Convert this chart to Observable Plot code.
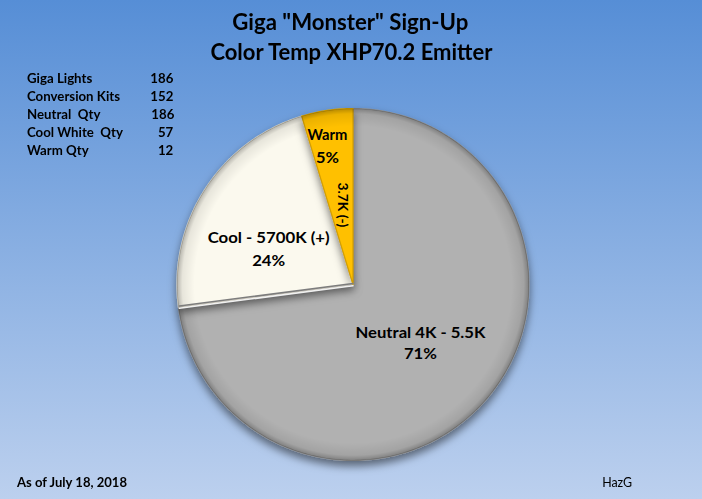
<!DOCTYPE html>
<html><head><meta charset="utf-8">
<script src="https://cdn.jsdelivr.net/npm/d3@7"></script>
<script src="https://cdn.jsdelivr.net/npm/@observablehq/plot@0.6"></script>
<style>
html,body{margin:0;padding:0;}
#chart{position:relative;width:702px;height:499px;overflow:hidden;background:linear-gradient(to bottom,#568ed6 0%,#bcd0ee 100%);font-family:Lato,"Open Sans",sans-serif;color:#000;}
#chart svg{position:absolute;left:0;top:0;background:transparent;}
.abs{position:absolute;white-space:pre;line-height:20px;}
</style></head><body><div id="chart"></div>
<script>
// ---- data ----
const titleLines = ['Giga "Monster" Sign-Up', "Color Temp XHP70.2 Emitter"];
const sliceNames = ["Neutral 4K - 5.5K", "Cool - 5700K (+)", "Warm"];
const sliceValues = [186, 57, 12];
const slicePercentLabels = ["71%", "24%", "5%"];
const sliceColors = ["#b1b1b1", "#fbf9ee", "#ffc000"];
const sliceEdgeColors = ["#8c8c8c", "#cfcbbd", "#d49f00"];
const warmNote = "3.7K (-)";
const tableLabels = ["Giga Lights", "Conversion Kits", "Neutral  Qty", "Cool White  Qty", "Warm Qty"];
const tableValues = [186, 152, 186, 57, 12];
const footerLeft = "As of July 18, 2018";
const footerRight = "HazG";

// ---- layout ----
const W = 702, H = 499;
const cx = 352.5, cy = 284, R = 176;
const labelLayout = [{r: 0.51, da: 0, gap: 10.5}, {r: 0.52, da: -10, gap: 11.5}, {r: 0.80, da: -2, gap: 11.5}];
const noteLayout = {r: 0.456, da: 1};
const textWidths = {"Neutral 4K - 5.5K": 130, "71%": 33, "Cool - 5700K (+)": 122, "24%": 33, "Warm": 40, "5%": 23, "3.7K (-)": 45};

const chart = document.getElementById("chart");
const rad = Math.PI / 180;
const arcs = d3.pie().sort(null).startAngle(0).endAngle(2 * Math.PI)(sliceValues);

const sectors = arcs.map(a => {
  const n = Math.max(2, Math.ceil((a.endAngle - a.startAngle) / rad));
  const pts = [{x: 0, y: 0}];
  for (let k = 0; k <= n; k++) {
    const t = a.startAngle + (a.endAngle - a.startAngle) * k / n;
    pts.push({x: Math.sin(t), y: Math.cos(t)});
  }
  pts.push({x: 0, y: 0});
  return pts;
});
const fullCircle = d3.range(0, 361).map(d => ({x: Math.sin(d * rad), y: Math.cos(d * rad)}));
// radial edge where the neutral slice ends (bevel highlight)
const neutralEnd = arcs[0].endAngle;
const edgeLine = [{x: 0, y: 0}, {x: Math.sin(neutralEnd) * 0.995, y: Math.cos(neutralEnd) * 0.995}];

const labels = arcs.map((a, i) => {
  const L = labelLayout[i];
  const t = (a.startAngle + a.endAngle) / 2 + L.da * rad;
  return {name: sliceNames[i], pct: slicePercentLabels[i], x: L.r * Math.sin(t), y: L.r * Math.cos(t), gap: L.gap};
});
const wa = arcs[2];
const nt = (wa.startAngle + wa.endAngle) / 2 + noteLayout.da * rad;
const note = [{text: warmNote, x: noteLayout.r * Math.sin(nt), y: noteLayout.r * Math.cos(nt)}];

const NS = "http://www.w3.org/2000/svg";
function defsMark() {
  const defs = document.createElementNS(NS, "defs");
  defs.innerHTML = `
    <filter id="pieShadow" x="-20%" y="-20%" width="140%" height="140%">
      <feDropShadow dx="0" dy="5" stdDeviation="4" flood-color="#000" flood-opacity="0.5"/>
    </filter>
    <radialGradient id="rim" gradientUnits="userSpaceOnUse" cx="${cx}" cy="${cy}" r="${R}">
      <stop offset="0.90" stop-color="#000" stop-opacity="0"/>
      <stop offset="0.97" stop-color="#000" stop-opacity="0.08"/>
      <stop offset="1" stop-color="#000" stop-opacity="0.28"/>
    </radialGradient>`;
  return defs;
}

const textOpts = {fontFamily: "Lato", fontWeight: "bold", fontSize: 16, fill: "#000"};

const plot = Plot.plot({
  width: W, height: H, margin: 0,
  x: {type: "linear", domain: [-1, 1], range: [cx - R, cx + R], axis: null},
  y: {type: "linear", domain: [-1, 1], range: [cy + R, cy - R], axis: null},
  style: {background: "transparent", overflow: "visible"},
  marks: [
    defsMark,
    ...sectors.map((pts, i) => Plot.line(pts, {x: "x", y: "y", fill: sliceColors[i], stroke: sliceEdgeColors[i], strokeWidth: 1.2, strokeLinejoin: "round"})),
    Plot.line(fullCircle, {x: "x", y: "y", fill: "url(#rim)", stroke: "none"}),
    Plot.line(edgeLine, {x: "x", y: "y", stroke: "#7d7d7d", strokeWidth: 1.5, dy: -1}),
    Plot.line(edgeLine, {x: "x", y: "y", stroke: "#ffffff", strokeOpacity: 0.9, strokeWidth: 1.6, dy: 1.2}),
    ...labels.map(l => Plot.text([l], {...textOpts, x: "x", y: "y", text: "name", dy: -l.gap})),
    ...labels.map(l => Plot.text([l], {...textOpts, x: "x", y: "y", text: "pct", dy: l.gap})),
    Plot.text(note, {...textOpts, fontSize: 13, x: "x", y: "y", text: "text", rotate: 90})
  ]
});
chart.appendChild(plot);

// shadow on sectors
plot.querySelectorAll("g[aria-label='line']").forEach((g, i) => { if (i < sectors.length) g.setAttribute("filter", "url(#pieShadow)"); });

// fit slice label widths
plot.querySelectorAll("text").forEach(t => {
  const w = textWidths[t.textContent];
  if (w) { t.setAttribute("textLength", w); t.setAttribute("lengthAdjust", "spacingAndGlyphs"); }
});

// ---- HTML text ----
function addText(str, {x, cy: c, anchor = "start", size, weight = 700, width, scale}) {
  const d = document.createElement("div");
  d.className = "abs";
  d.textContent = str;
  d.style.fontSize = size + "px";
  d.style.fontWeight = weight;
  d.style.top = (c - 10) + "px";
  d.style.left = "0px";
  chart.appendChild(d);
  const w = d.getBoundingClientRect().width;
  const s = scale != null ? scale : (width ? width / w : 1);
  if (anchor === "start") { d.style.left = x + "px"; d.style.transformOrigin = "left center"; }
  else if (anchor === "end") { d.style.left = (x - w) + "px"; d.style.transformOrigin = "right center"; }
  else { d.style.left = (x - w / 2) + "px"; d.style.transformOrigin = "center center"; }
  d.style.transform = `scaleX(${s})`;
  return {el: d, w};
}
function measure(str, size, weight) {
  const d = document.createElement("div");
  d.className = "abs"; d.textContent = str; d.style.fontSize = size + "px"; d.style.fontWeight = weight;
  chart.appendChild(d); const w = d.getBoundingClientRect().width; d.remove(); return w;
}

addText(titleLines[0], {x: 350.5, cy: 21, anchor: "middle", size: 23, width: 236});
addText(titleLines[1], {x: 351, cy: 50.5, anchor: "middle", size: 23, width: 282});

const tSize = 14;
const tScale = 93 / measure("Conversion Kits", tSize, 700);
const rowY = [78.3, 96, 113.7, 131.6, 150];
tableLabels.forEach((lab, i) => {
  addText(lab, {x: 27, cy: rowY[i], size: tSize, scale: tScale});
  addText(String(tableValues[i]), {x: i === 2 ? 174.5 : 173.5, cy: rowY[i], anchor: "end", size: tSize, scale: tScale});
});

addText(footerLeft, {x: 17, cy: 483, size: 12.5, width: 110});
addText(footerRight, {x: 617, cy: 483, anchor: "middle", size: 12.5, weight: 400, width: 30});
</script>
</body></html>
